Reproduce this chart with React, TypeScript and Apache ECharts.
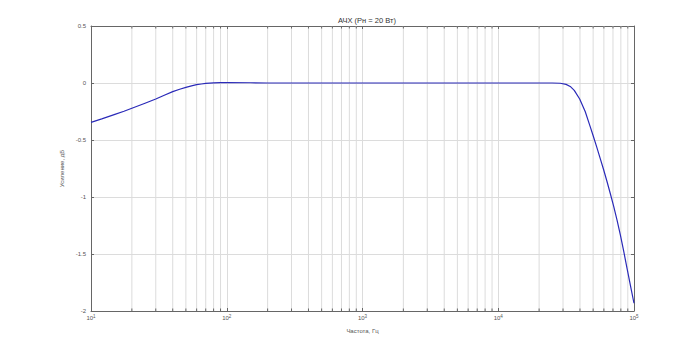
import React, { useEffect, useRef } from "react";
import * as echarts from "echarts";

const titleText = "АЧХ (Рн = 20 Вт)";
const xName = "Частота, Гц";
const yName = "Усиление, дБ";

const freqs = [
  10, 12, 15, 17.5, 20, 25, 30, 35, 40, 45, 50, 55, 60, 65, 70, 75, 80, 90, 100,
  150, 200, 500, 1000, 2000, 5000, 10000, 20000, 25000, 28600, 31600, 33900,
  36300, 39800, 43700, 47500, 50100, 53100, 56200, 59600, 63100, 66800, 70800,
  75000, 79400, 84100, 89100, 94400, 100000,
];
const gainDb = [
  -0.345, -0.315, -0.275, -0.248, -0.222, -0.178, -0.14, -0.105, -0.076, -0.055,
  -0.038, -0.025, -0.015, -0.009, -0.004, -0.001, 0.001, 0.003, 0.003, 0.002,
  0.0, 0.0, 0.0, 0.0, 0.0, 0.0, 0.0, 0.0, -0.002, -0.012, -0.03, -0.065, -0.14,
  -0.25, -0.38, -0.465, -0.56, -0.657, -0.757, -0.86, -0.967, -1.08, -1.202,
  -1.335, -1.48, -1.632, -1.784, -1.932,
];

const minorX = [
  20, 30, 40, 50, 60, 70, 80, 90, 200, 300, 400, 500, 600, 700, 800, 900, 2000,
  3000, 4000, 5000, 6000, 7000, 8000, 9000, 20000, 30000, 40000, 50000, 60000,
  70000, 80000, 90000,
];

const yTicks = { min: -2, max: 0.5, interval: 0.5 };

const axisColor = "#666";
const gridColor = "#dcdcdc";
const textColor = "#555";
const font = "Liberation Sans";

export default function App() {
  const ref = useRef<HTMLDivElement>(null);
  useEffect(() => {
    document.body.style.margin = "0";
    const chart = echarts.init(ref.current!, null, { renderer: "svg" });
    const xCommon = {
      type: "log" as const,
      logBase: 10,
      min: 10,
      max: 100000,
      axisLine: { show: true, onZero: false, lineStyle: { color: axisColor, width: 1 } },
      axisTick: { show: true, inside: true, length: 3, lineStyle: { color: axisColor } },
    };
    const yCommon = {
      type: "value" as const,
      min: yTicks.min,
      max: yTicks.max,
      interval: yTicks.interval,
      axisLine: { show: true, onZero: false, lineStyle: { color: axisColor, width: 1 } },
      axisTick: { show: true, inside: true, length: 3, lineStyle: { color: axisColor } },
    };
    chart.setOption({
      animation: false,
      backgroundColor: "#fff",
      title: {
        text: titleText,
        left: 362,
        textAlign: "center",
        top: 11,
        textStyle: { fontFamily: font, fontSize: 7.5, fontWeight: "normal", color: "#333" },
      },
      grid: { left: 91, top: 26, right: 66, bottom: 38 },
      xAxis: [
        {
          ...xCommon,
          position: "bottom",
          name: xName,
          nameLocation: "middle",
          nameGap: 17,
          nameTextStyle: { fontFamily: font, fontSize: 6, color: textColor },
          axisLabel: {
            margin: 3,
            formatter: (v: number) => "10{sup|" + Math.round(Math.log10(v)) + "}",
            rich: {
              sup: { fontFamily: font, fontSize: 4.5, color: textColor, verticalAlign: "top", padding: [0, 0, 3, 0] },
            },
            fontFamily: font,
            fontSize: 6,
            color: textColor,
          },
          splitLine: { show: true, lineStyle: { color: gridColor, width: 1 } },
        },
        {
          ...xCommon,
          position: "top",
          axisLabel: { show: false },
          splitLine: { show: false },
        },
      ],
      yAxis: [
        {
          ...yCommon,
          position: "left",
          name: yName,
          nameLocation: "middle",
          nameGap: 16,
          nameTextStyle: { fontFamily: font, fontSize: 6, color: textColor },
          axisLabel: { margin: 5, fontFamily: font, fontSize: 6, color: textColor },
          splitLine: { show: true, lineStyle: { color: gridColor, width: 1 } },
        },
        {
          ...yCommon,
          position: "right",
          axisLabel: { show: false },
          splitLine: { show: false },
        },
      ],
      series: [
        {
          type: "custom",
          xAxisIndex: 0,
          yAxisIndex: 0,
          z: 1,
          silent: true,
          data: minorX.map((v) => [v, 0]),
          encode: { x: 0, y: 1 },
          renderItem: (params: any, api: any) => {
            const x = api.coord([api.value(0), 0])[0];
            const cs = params.coordSys;
            const top = cs.y;
            const bottom = cs.y + cs.height;
            return {
              type: "group",
              children: [
                { type: "line", shape: { x1: x, y1: top, x2: x, y2: bottom }, style: { stroke: gridColor, lineWidth: 1 } },
                { type: "line", shape: { x1: x, y1: bottom, x2: x, y2: bottom - 2.5 }, style: { stroke: axisColor, lineWidth: 1 } },
                { type: "line", shape: { x1: x, y1: top, x2: x, y2: top + 2.5 }, style: { stroke: axisColor, lineWidth: 1 } },
              ],
            };
          },
        },
        {
          type: "line",
          xAxisIndex: 0,
          yAxisIndex: 0,
          z: 3,
          data: freqs.map((f, i) => [f, gainDb[i]]),
          showSymbol: false,
          smooth: false,
          lineStyle: { color: "#2a2ab8", width: 1.2, join: "round" },
        },
      ],
    });
    return () => chart.dispose();
  }, []);
  return <div ref={ref} style={{ width: 700, height: 349 }} />;
}
